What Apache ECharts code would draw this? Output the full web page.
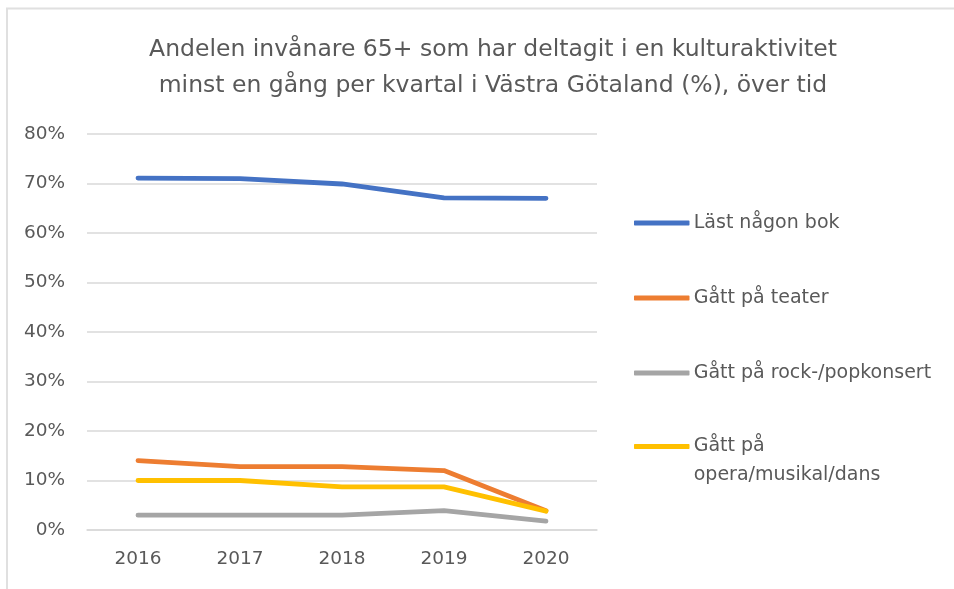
<!DOCTYPE html>
<html>
<head>
<meta charset="utf-8">
<script src="https://cdn.jsdelivr.net/npm/echarts@6/dist/echarts.min.js"></script>
<style>
  html, body { margin: 0; padding: 0; background: #fff; }
  #main { width: 954px; height: 589px; }
</style>
</head>
<body>
<div id="main"></div>
<script>
// data
const years = ['2016', '2017', '2018', '2019', '2020']
const bok = [71.1, 71.0, 69.9, 67.1, 67.0]
const teater = [14.0, 12.8, 12.8, 12.0, 3.9]
const rockpop = [3.0, 3.0, 3.0, 3.9, 1.8]
const opera = [10.0, 10.0, 8.7, 8.7, 3.8]
const yTicks = [0, 10, 20, 30, 40, 50, 60, 70, 80]

const names = ['Läst någon bok', 'Gått på teater', 'Gått på rock-/popkonsert', 'Gått på opera/musikal/dans']
const colors = ['#4472C4', '#ED7D31', '#A5A5A5', '#FFC000']
const values = [bok, teater, rockpop, opera]

const chart = echarts.init(document.getElementById('main'))

const font = '"DejaVu Sans", sans-serif'
const grey = '#595959'

// thick line icon with rounded ends for the legend
function legendItem(name, i) {
    return {
        name: name,
        icon: 'path://M0,0 L54,0 L54,3.5 L0,3.5 Z',
        itemStyle: {color: colors[i], borderColor: colors[i], borderWidth: 1.5, borderJoin: 'round'}
    }
}

let legendBase = {
    orient: 'vertical',
    left: 634,
    padding: 0,
    itemWidth: 54,
    itemHeight: 20,
    selectedMode: false,
    textStyle: {fontFamily: font, fontSize: 19, color: grey}
}

let option = {
    animation: false,
    color: colors,
    graphic: [{
        type: 'rect',
        shape: {x: 7, y: 8.5, width: 1200, height: 1200},
        style: {fill: 'none', stroke: '#e0e0e0', lineWidth: 2},
        silent: true
    }],
    title: {
        text: 'Andelen invånare 65+ som har deltagit i en kulturaktivitet\nminst en gång per kvartal i Västra Götaland (%), över tid',
        left: 488,
        textAlign: 'center',
        top: 27,
        textStyle: {
            fontFamily: font,
            fontWeight: 'normal',
            fontSize: 23.5,
            lineHeight: 36,
            color: grey
        }
    },
    grid: {
        left: 87,
        right: 357,
        top: 134,
        bottom: 59
    },
    legend: [
        Object.assign({}, legendBase, {
            top: 213,
            itemGap: 55,
            textStyle: Object.assign({}, legendBase.textStyle, {lineHeight: 20}),
            data: names.slice(0, 3).map(legendItem)
        }),
        Object.assign({}, legendBase, {
            top: 403,
            // leading empty line keeps the icon level with the first text line
            formatter: () => '\nGått på\nopera/musikal/dans',
            textStyle: Object.assign({}, legendBase.textStyle, {lineHeight: 29}),
            data: [legendItem(names[3], 3)]
        })
    ],
    xAxis: {
        type: 'category',
        data: years,
        boundaryGap: true,
        axisLine: {lineStyle: {color: '#D9D9D9', width: 1.5}},
        axisTick: {show: false},
        axisLabel: {
            margin: 20,
            fontFamily: font,
            fontSize: 18.5,
            color: grey
        }
    },
    yAxis: {
        type: 'value',
        min: yTicks[0],
        max: yTicks[yTicks.length - 1],
        interval: 10,
        axisLine: {show: false},
        axisTick: {show: false},
        splitLine: {lineStyle: {color: '#D9D9D9', width: 1.5}},
        axisLabel: {
            margin: 22,
            fontFamily: font,
            fontSize: 18.5,
            color: grey,
            formatter: '{value}%'
        }
    },
    series: values.map((v, i) => ({
        name: names[i],
        type: 'line',
        data: v,
        symbol: 'none',
        lineStyle: {width: 4.8, color: colors[i], cap: 'round', join: 'round'},
        itemStyle: {color: colors[i]},
        silent: true
    }))
}

chart.setOption(option)
</script>
</body>
</html>
